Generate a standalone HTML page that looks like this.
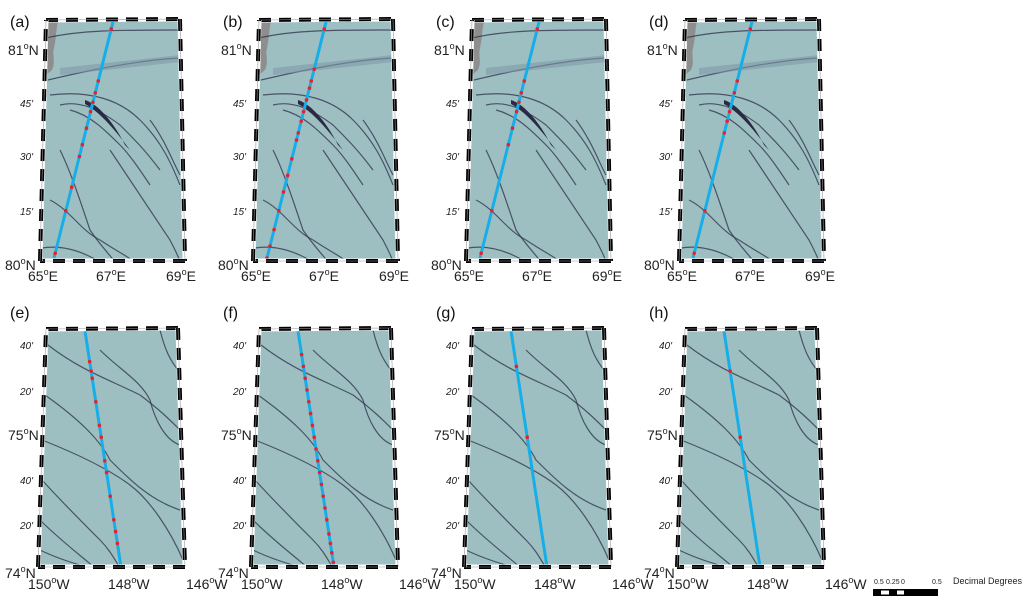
<!DOCTYPE html>
<html><head><meta charset="utf-8"><style>
body{margin:0;background:#fff;width:1024px;height:601px;overflow:hidden}
svg{font-family:"Liberation Sans",sans-serif}
</style></head><body>
<svg id="fig" width="1024" height="601" viewBox="0 0 1024 601" xmlns="http://www.w3.org/2000/svg">
<g id="panels"></g>
<g>
<text x="874" y="584" font-size="7" fill="#222">0.5</text>
<text x="886" y="584" font-size="7" fill="#222">0.25</text>
<text x="901" y="584" font-size="7" fill="#222">0</text>
<text x="932" y="584" font-size="7" fill="#222">0.5</text>
<rect x="873" y="589" width="65" height="7" fill="#000"/>
<rect x="881" y="590.5" width="8" height="4" fill="#fff"/>
<rect x="897" y="590.5" width="7" height="4" fill="#fff"/>
<text x="953" y="584" font-size="9" fill="#222">Decimal Degrees</text>
</g>
</svg>
<script>
const NS="http://www.w3.org/2000/svg";
const panelLabels=["(a)","(b)","(c)","(d)","(e)","(f)","(g)","(h)"];
const panelOffsets=[0,213,426,639];
// red marker positions along track (fraction from bottom=0 to top=1)
const redA=[0.02,0.2,0.3,0.43,0.48,0.55,0.62,0.66,0.7,0.75,0.97];
const redB=[0.0,0.05,0.12,0.2,0.28,0.35,0.42,0.5,0.53,0.58,0.62,0.67,0.72,0.75,0.8,0.97];
const redC=[0.02,0.2,0.48,0.55,0.62,0.66,0.7,0.75,0.97];
const redD=[0.02,0.2,0.53,0.58,0.62,0.7,0.75,0.97];
const redE=[0.1,0.15,0.2,0.3,0.4,0.45,0.55,0.6,0.7,0.8,0.83,0.87];
const redF=[0.02,0.06,0.1,0.14,0.2,0.25,0.3,0.35,0.4,0.45,0.5,0.55,0.6,0.65,0.7,0.75,0.8,0.85,0.9];
const redG=[0.55,0.85];
const redH=[0.55,0.83];
const reds=[redA,redB,redC,redD,redE,redF,redG,redH];
const topCracks=["M46,38 C80,30 120,30 180,30","M48,80 C90,70 140,60 180,58","M50,95 C90,90 120,100 140,120 C160,140 170,160 180,185","M60,105 C80,100 100,110 120,125 C135,140 145,150 160,170","M70,110 C90,115 105,130 120,145 C130,155 140,170 150,185","M60,150 C70,170 80,200 90,230 C100,245 110,255 115,262","M50,200 C70,210 80,230 100,240 C115,250 125,255 135,262","M110,150 C130,180 150,210 170,240 C175,250 178,255 180,262","M150,120 C165,140 172,160 180,175","M42,248 C60,245 80,250 100,262"];
const botCracks=["M48,345 C80,370 110,380 140,395 C160,410 170,420 180,430","M45,395 C80,420 100,440 110,460 C130,480 150,500 180,510","M42,440 C80,455 110,470 130,485 C150,500 170,530 183,560","M42,480 C60,500 80,520 100,540 C110,550 115,560 120,568","M40,520 C60,540 80,555 95,568","M160,330 C165,350 170,360 178,370","M100,350 C120,370 140,380 150,400 C155,420 165,440 180,445","M40,550 C60,560 80,565 90,568"];
const svg=document.getElementById('panels');
function el(t,a,p){const e=document.createElementNS(NS,t);for(const k in a)e.setAttribute(k,a[k]);(p||svg).appendChild(e);return e;}
function deg(tx,s){const [a,b]=s.split('°');tx.appendChild(document.createTextNode(a));const sp=document.createElementNS(NS,'tspan');sp.setAttribute('font-size','9');sp.setAttribute('dy','-6');sp.textContent='o';tx.appendChild(sp);const sp2=document.createElementNS(NS,'tspan');sp2.setAttribute('dy','6');sp2.textContent=b;tx.appendChild(sp2);}
function frameDash(g,x1,y1,x2,y2){
  el('line',{x1,y1,x2,y2,stroke:'#fff','stroke-width':5},g);
  el('line',{x1,y1,x2,y2,stroke:'#000','stroke-width':4,'stroke-dasharray':'12 8'},g);
  el('line',{x1,y1,x2,y2,stroke:'#999','stroke-width':0.6},g);
}
for(let i=0;i<8;i++){
  const row=i<4?0:1, ox=panelOffsets[i%4];
  const g=el('g',{transform:`translate(${ox},0)`});
  
  
  let poly,track,lab,xl;
  if(row===0){poly=[[46,20],[180,19],[185,261],[40,261]];track=[[54,258],[113,22]];lab=10;
    xl=[["65°E",28],["67°E",96],["69°E",166]];}
  else{poly=[[46,329],[178,328],[185,567],[38,567]];track=[[121,567],[85,331]];lab=10;
    xl=[["150°W",28],["148°W",108],["146°W",186]];}
  el('polygon',{points:poly.map(p=>p.join(',')).join(' '),fill:'#9dbfc2'},g);
  if(row===0) el('path',{d:'M46,21 L58,21 C56,30 56,40 54,48 C52,55 56,62 52,70 L46,75 Z',fill:'#8e8e8e'},g);
  const cr=row===0?topCracks:botCracks;
  cr.forEach(d=>{el('path',{d,fill:'none',stroke:'#2c2f48','stroke-width':1.2,opacity:0.75},g);});
  if(row===0){el('path',{d:'M60,68 L180,55 L180,62 L60,75 Z',fill:'#7f9aa8',opacity:0.6},g);
    el('path',{d:'M85,100 C100,105 115,125 125,145 L130,150 C115,130 100,112 85,104Z',fill:'#2a2a45'},g);}
  const t=el('line',{x1:track[0][0],y1:track[0][1],x2:track[1][0],y2:track[1][1],stroke:'#16aee8','stroke-width':3},g);
  
  
  reds[i].forEach(f=>{
    const x=track[0][0]+(track[1][0]-track[0][0])*f, y=track[0][1]+(track[1][1]-track[0][1])*f;
    const m=el('circle',{cx:x,cy:y,r:1.8,fill:'#e8202a'},g);
    
    
  });
  for(let k=0;k<4;k++){const a=poly[k],b=poly[(k+1)%4];frameDash(g,a[0],a[1],b[0],b[1]);}
  const ty=row===0?27:318;
  const tl=el('text',{x:lab,y:ty,'font-size':16,fill:'#111'},g);tl.textContent=panelLabels[i];
  
  
  if(row===0){
    [["81°N",55,14],["45'",107,10],["30'",160,10],["15'",215,10]].forEach(([s,y,fs],j)=>{
      const tx=el('text',{x:j==0?8:20,y,'font-size':fs,fill:'#222','font-style':j?'italic':'normal'},g);if(j==0)deg(tx,s);else tx.textContent=s;});
    const a=el('text',{x:5,y:270,'font-size':14,fill:'#222'},g);deg(a,"80°N");
  }else{
    [["40'",349,10],["20'",395,10],["75°N",440,14],["40'",484,10],["20'",529,10]].forEach(([s,y,fs])=>{
      const tx=el('text',{x:fs>10?8:20,y,'font-size':fs,fill:'#222','font-style':fs>10?'normal':'italic'},g);if(fs>10)deg(tx,s);else tx.textContent=s;});
    const a=el('text',{x:5,y:578,'font-size':14,fill:'#222'},g);deg(a,"74°N");
  }
  xl.forEach(([s,x])=>{const tx=el('text',{x,y:row===0?281:589,'font-size':14,fill:'#222'},g);deg(tx,s);
    
    });
}
</script>
</body></html>
